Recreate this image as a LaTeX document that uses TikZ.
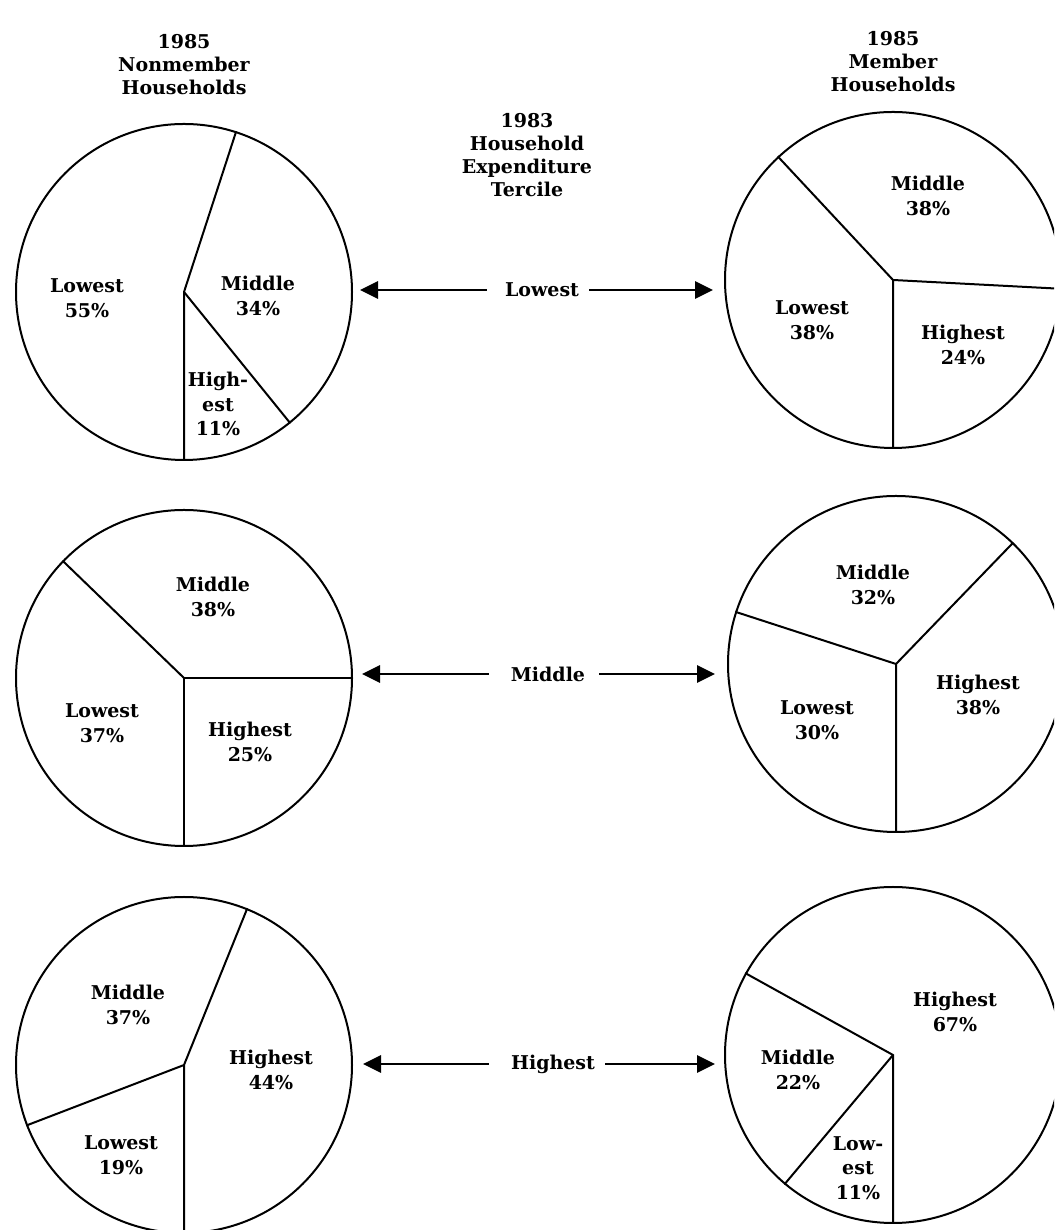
\documentclass[tikz,border=0pt]{standalone}
\usepackage{fontspec}
\setmainfont{DejaVu Serif}
\usetikzlibrary{arrows.meta}
\begin{document}
\begin{tikzpicture}[x=1pt,y=1pt,
  pie/.style={circle,draw,line width=2pt,minimum size=336pt,inner sep=0pt},
  slice/.style={line width=2pt},
  lab/.style={align=center,font=\bfseries\fontsize{19}{24.5}\selectfont,inner sep=0pt},
  head/.style={align=center,font=\bfseries\fontsize{19}{23}\selectfont,inner sep=0pt},
  arr/.style={line width=2.8pt,-{Triangle[length=18pt,width=17pt]}}]
\useasboundingbox (0,0) rectangle (1054,1230);
\clip (0,0) rectangle (1054,1230);
% headers
\node[head] (h1) at (184,1165) {1985\\Nonmember\\Households};
\node[head] (h2) at (893,1168) {1985\\Member\\Households};
\node[head] (h3) at (527,1075) {1983\\Household\\Expenditure\\Tercile};
% pies
\node[pie] (p1) at (184,938) {};
\node[pie] (p2) at (893,950) {};
\node[pie] (p3) at (184,552) {};
\node[pie] (p4) at (896,566) {};
\node[pie] (p5) at (184,165) {};
\node[pie] (p6) at (893,175) {};
% slices
\draw[slice] (p1.72) -- (p1.center) -- (p1.270);
\draw[slice] (p1.center) -- (p1.309.6);
\draw[slice] (p2.133.2) -- (p2.center) -- (p2.270);
\draw[slice] (p2.center) -- (p2.357.6);
\draw[slice] (p3.0) -- (p3.center) -- (p3.270);
\draw[slice] (p3.center) -- (p3.136.8);
\draw[slice] (p4.46.8) -- (p4.center) -- (p4.270);
\draw[slice] (p4.center) -- (p4.162);
\draw[slice] (p5.68.4) -- (p5.center) -- (p5.270);
\draw[slice] (p5.center) -- (p5.201.6);
\draw[slice] (p6.151.2) -- (p6.center) -- (p6.270);
\draw[slice] (p6.center) -- (p6.230.4);
% slice labels
\node[lab] (l1a) at (87,932) {Lowest\\55\%};
\node[lab] (l1b) at (258,934) {Middle\\34\%};
\node[lab] (l1c) at (218,826) {High-\\est\\11\%};
\node[lab] (l2a) at (928,1034) {Middle\\38\%};
\node[lab] (l2b) at (812,910) {Lowest\\38\%};
\node[lab] (l2c) at (963,885) {Highest\\24\%};
\node[lab] (l3a) at (213,633) {Middle\\38\%};
\node[lab] (l3b) at (102,507) {Lowest\\37\%};
\node[lab] (l3c) at (250,488) {Highest\\25\%};
\node[lab] (l4a) at (873,645) {Middle\\32\%};
\node[lab] (l4b) at (978,535) {Highest\\38\%};
\node[lab] (l4c) at (817,510) {Lowest\\30\%};
\node[lab] (l5a) at (128,225) {Middle\\37\%};
\node[lab] (l5b) at (271,160) {Highest\\44\%};
\node[lab] (l5c) at (121,75) {Lowest\\19\%};
\node[lab] (l6a) at (955,218) {Highest\\67\%};
\node[lab] (l6b) at (798,160) {Middle\\22\%};
\node[lab] (l6c) at (858,62) {Low-\\est\\11\%};
% tercile arrows
\node[lab] (t1) at (542,940) {Lowest};
\node[lab] (t2) at (548,556) {Middle};
\node[lab] (t3) at (553,166) {Highest};
\coordinate (t1l) at (360,940);
\coordinate (t1r) at (713,940);
\coordinate (t2l) at (362,556);
\coordinate (t2r) at (715,556);
\coordinate (t3l) at (363,166);
\coordinate (t3r) at (715,166);
\draw[arr,shorten <=18pt] (t1.west) -- (t1l);
\draw[arr,shorten <=10pt] (t1.east) -- (t1r);
\draw[arr,shorten <=22pt] (t2.west) -- (t2l);
\draw[arr,shorten <=14pt] (t2.east) -- (t2r);
\draw[arr,shorten <=22pt] (t3.west) -- (t3l);
\draw[arr,shorten <=10pt] (t3.east) -- (t3r);
\end{tikzpicture}
\end{document}
